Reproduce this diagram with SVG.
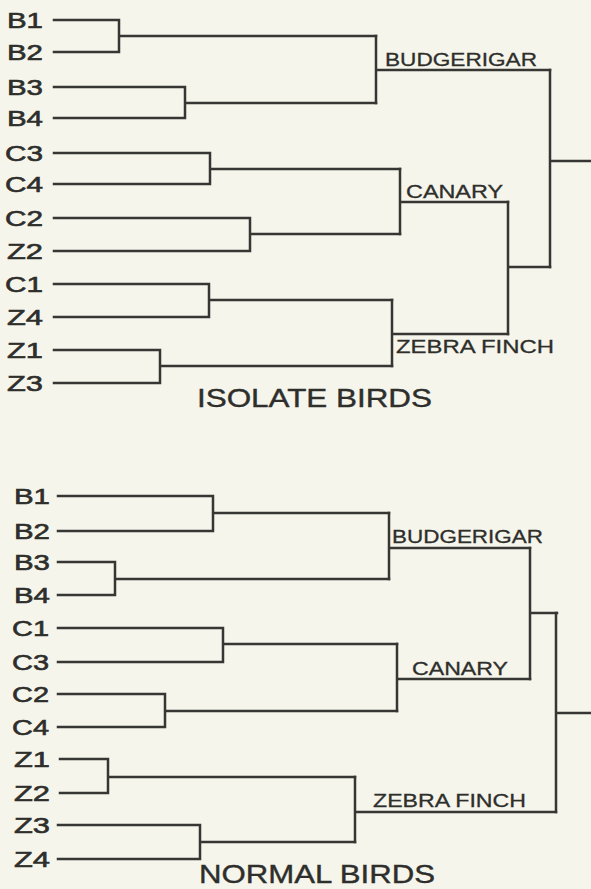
<svg xmlns="http://www.w3.org/2000/svg" width="591" height="889" viewBox="0 0 591 889">
<style>
.bg{fill:#f5f5ec}
.ln{fill:none;stroke:#363632;stroke-width:2.5;stroke-linecap:square;stroke-linejoin:miter}
.lf{font-family:"Liberation Sans",Arial,sans-serif;font-size:22px;fill:#2e2e2b;stroke:#2e2e2b;stroke-width:0.6}
.cl{font-family:"Liberation Sans",Arial,sans-serif;font-size:19px;fill:#2e2e2b;stroke:#2e2e2b;stroke-width:0.3}
.tt{font-family:"Liberation Sans",Arial,sans-serif;font-size:26px;fill:#2e2e2b;stroke:#2e2e2b;stroke-width:0.4}
</style>
<rect class="bg" x="0" y="0" width="591" height="889"/>

<g id="connectors">
  <!-- top: isolate birds -->
  <path class="ln" d="M54,20 H119 V52 H54 M119,36 H376"/>
  <path class="ln" d="M54,87 H185 V118 H54 M185,103 H376"/>
  <path class="ln" d="M376,36 V103 M376,70 H550"/>
  <path class="ln" d="M54,153 H210 V184 H54 M210,169 H400"/>
  <path class="ln" d="M54,218 H250 V251 H54 M250,234 H400"/>
  <path class="ln" d="M400,169 V234 M400,202 H508"/>
  <path class="ln" d="M54,284 H209 V317 H54 M209,300 H392"/>
  <path class="ln" d="M54,350 H160 V383 H54 M160,366 H392"/>
  <path class="ln" d="M392,300 V366 M392,334 H508"/>
  <path class="ln" d="M508,202 V334 M508,267 H550"/>
  <path class="ln" d="M550,70 V267 M550,161 H591"/>
  <!-- bottom: normal birds -->
  <path class="ln" d="M58,496 H213 V531 H58 M213,513 H389"/>
  <path class="ln" d="M58,562 H115 V595 H58 M115,579 H389"/>
  <path class="ln" d="M389,513 V579 M389,548 H530"/>
  <path class="ln" d="M58,628 H223 V662 H58 M223,644 H397"/>
  <path class="ln" d="M58,694 H165 V727 H58 M165,711 H397"/>
  <path class="ln" d="M397,644 V711 M397,679 H530"/>
  <path class="ln" d="M530,548 V679 M530,613 H557"/>
  <path class="ln" d="M60,759 H108 V793 H60 M108,777 H355"/>
  <path class="ln" d="M58,825 H200 V859 H58 M200,842 H355"/>
  <path class="ln" d="M355,777 V842 M355,812 H556"/>
  <path class="ln" d="M556,613 V812 M556,713 H591"/>
</g>

<g id="isolate-leaves">
  <g id="iso-B1"><text class="lf" x="7" y="28" textLength="36" lengthAdjust="spacingAndGlyphs">B1</text></g>
  <g id="iso-B2"><text class="lf" x="7" y="60" textLength="36" lengthAdjust="spacingAndGlyphs">B2</text></g>
  <g id="iso-B3"><text class="lf" x="7" y="95" textLength="36" lengthAdjust="spacingAndGlyphs">B3</text></g>
  <g id="iso-B4"><text class="lf" x="7" y="126" textLength="36" lengthAdjust="spacingAndGlyphs">B4</text></g>
  <g id="iso-C3"><text class="lf" x="5" y="161" textLength="38" lengthAdjust="spacingAndGlyphs">C3</text></g>
  <g id="iso-C4"><text class="lf" x="5" y="192" textLength="38" lengthAdjust="spacingAndGlyphs">C4</text></g>
  <g id="iso-C2"><text class="lf" x="5" y="226" textLength="38" lengthAdjust="spacingAndGlyphs">C2</text></g>
  <g id="iso-Z2"><text class="lf" x="7" y="259" textLength="36" lengthAdjust="spacingAndGlyphs">Z2</text></g>
  <g id="iso-C1"><text class="lf" x="5" y="292" textLength="38" lengthAdjust="spacingAndGlyphs">C1</text></g>
  <g id="iso-Z4"><text class="lf" x="7" y="325" textLength="36" lengthAdjust="spacingAndGlyphs">Z4</text></g>
  <g id="iso-Z1"><text class="lf" x="7" y="358" textLength="36" lengthAdjust="spacingAndGlyphs">Z1</text></g>
  <g id="iso-Z3"><text class="lf" x="7" y="391" textLength="36" lengthAdjust="spacingAndGlyphs">Z3</text></g>
</g>

<g id="isolate-clades">
  <g id="iso-budgerigar"><text class="cl" x="385" y="66" textLength="152" lengthAdjust="spacingAndGlyphs">BUDGERIGAR</text></g>
  <g id="iso-canary"><text class="cl" x="406" y="198" textLength="97" lengthAdjust="spacingAndGlyphs">CANARY</text></g>
  <g id="iso-zebra"><text class="cl" x="396" y="353" textLength="158" lengthAdjust="spacingAndGlyphs">ZEBRA FINCH</text></g>
  <g id="iso-title"><text class="tt" x="197" y="407" textLength="235" lengthAdjust="spacingAndGlyphs">ISOLATE BIRDS</text></g>
</g>

<g id="normal-leaves">
  <g id="nor-B1"><text class="lf" x="14" y="504" textLength="36" lengthAdjust="spacingAndGlyphs">B1</text></g>
  <g id="nor-B2"><text class="lf" x="14" y="539" textLength="36" lengthAdjust="spacingAndGlyphs">B2</text></g>
  <g id="nor-B3"><text class="lf" x="14" y="570" textLength="36" lengthAdjust="spacingAndGlyphs">B3</text></g>
  <g id="nor-B4"><text class="lf" x="14" y="603" textLength="36" lengthAdjust="spacingAndGlyphs">B4</text></g>
  <g id="nor-C1"><text class="lf" x="12" y="636" textLength="37" lengthAdjust="spacingAndGlyphs">C1</text></g>
  <g id="nor-C3"><text class="lf" x="12" y="670" textLength="37" lengthAdjust="spacingAndGlyphs">C3</text></g>
  <g id="nor-C2"><text class="lf" x="12" y="702" textLength="37" lengthAdjust="spacingAndGlyphs">C2</text></g>
  <g id="nor-C4"><text class="lf" x="12" y="735" textLength="37" lengthAdjust="spacingAndGlyphs">C4</text></g>
  <g id="nor-Z1"><text class="lf" x="14" y="767" textLength="36" lengthAdjust="spacingAndGlyphs">Z1</text></g>
  <g id="nor-Z2"><text class="lf" x="14" y="801" textLength="36" lengthAdjust="spacingAndGlyphs">Z2</text></g>
  <g id="nor-Z3"><text class="lf" x="14" y="833" textLength="36" lengthAdjust="spacingAndGlyphs">Z3</text></g>
  <g id="nor-Z4"><text class="lf" x="14" y="867" textLength="36" lengthAdjust="spacingAndGlyphs">Z4</text></g>
</g>

<g id="normal-clades">
  <g id="nor-budgerigar"><text class="cl" x="392" y="543" textLength="151" lengthAdjust="spacingAndGlyphs">BUDGERIGAR</text></g>
  <g id="nor-canary"><text class="cl" x="412" y="675" textLength="96" lengthAdjust="spacingAndGlyphs">CANARY</text></g>
  <g id="nor-zebra"><text class="cl" x="373" y="807" textLength="153" lengthAdjust="spacingAndGlyphs">ZEBRA FINCH</text></g>
  <g id="nor-title"><text class="tt" x="199" y="883" textLength="236" lengthAdjust="spacingAndGlyphs">NORMAL BIRDS</text></g>
</g>
</svg>
